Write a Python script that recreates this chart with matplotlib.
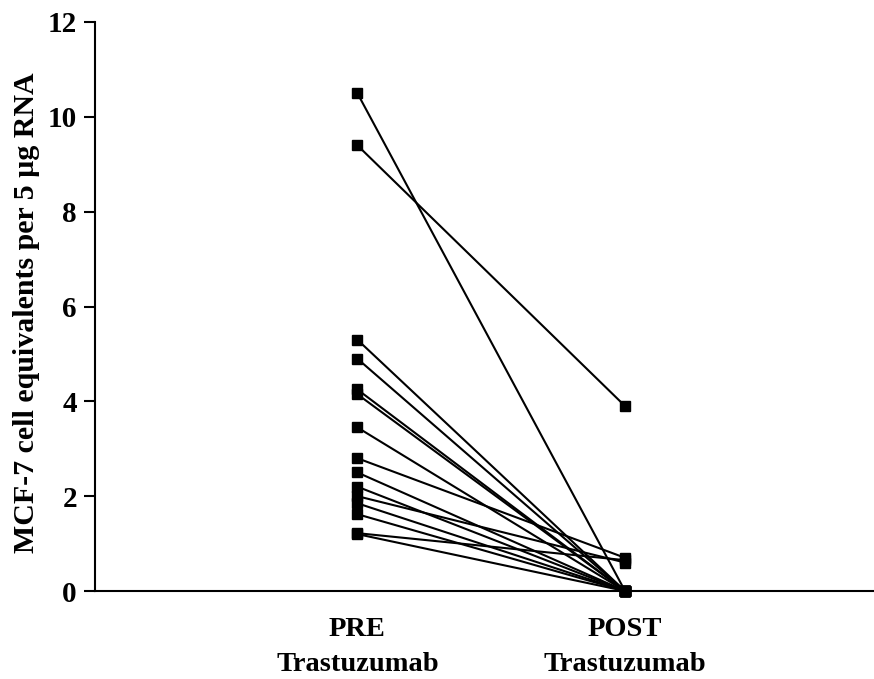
import matplotlib
matplotlib.use("Agg")
import matplotlib.pyplot as plt

groups = ["PRE\nTrastuzumab", "POST\nTrastuzumab"]
pre_values = [10.5, 9.4, 5.3, 4.9, 4.25, 4.15, 3.45, 2.8, 2.5, 2.2, 2.0, 1.85, 1.62, 1.22, 1.2]
post_values = [0.0, 3.9, 0.0, 0.0, 0.0, 0.0, 0.0, 0.7, 0.0, 0.0, 0.6, 0.0, 0.0, 0.65, 0.0]
yticks = [0, 2, 4, 6, 8, 10, 12]

plt.rcParams['font.family'] = ['Liberation Serif', 'DejaVu Serif']
plt.rcParams['font.weight'] = 'bold'

fig = plt.figure(figsize=(8.74, 6.79), dpi=100)
ax = fig.add_axes([0.1087, 0.1296, 0.8913, 0.838])

xpos = [1, 2]
for a, b in zip(pre_values, post_values):
    ax.plot(xpos, [a, b], color='black', lw=1.5, marker='s', markersize=7.5,
            markerfacecolor='black', markeredgecolor='black', clip_on=False, zorder=3)

ax.set_xlim(0.02, 2.93)
ax.set_ylim(0, 12)
ax.set_yticks(yticks)
ax.set_yticklabels([str(t) for t in yticks], fontsize=21, fontweight='bold')
ax.set_xticks(xpos)
ax.set_xticklabels(groups, fontsize=20.5, fontweight='bold', linespacing=1.5)
ax.tick_params(axis='x', length=0, pad=19)
ax.tick_params(axis='y', length=8, width=1.5, direction='out', pad=5)
ax.spines['top'].set_visible(False)
ax.spines['right'].set_visible(False)
ax.spines['left'].set_linewidth(1.5)
ax.spines['bottom'].set_linewidth(1.5)
ax.set_ylabel("MCF-7 cell equivalents per 5 µg RNA", fontsize=21.5, fontweight='bold')
ax.yaxis.set_label_coords(-0.07, 0.49)

fig.savefig("out.png", dpi=100)
